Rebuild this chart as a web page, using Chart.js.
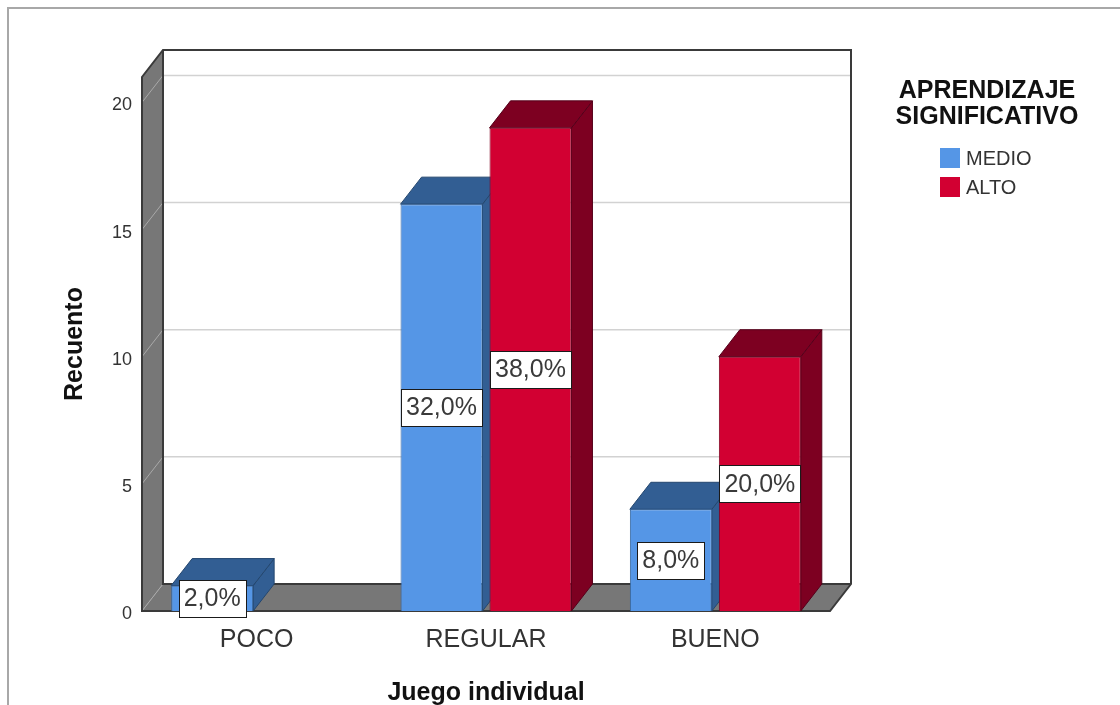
<!DOCTYPE html>
<html>
<head>
<meta charset="utf-8">
<script src="https://cdn.jsdelivr.net/npm/chart.js@4.4.1/dist/chart.umd.min.js"></script>
<style>
html,body{margin:0;padding:0;background:#fff;}
#wrap{width:1120px;height:705px;position:relative;overflow:hidden;}
</style>
</head>
<body>
<div id="wrap"><canvas id="c" width="1120" height="705"></canvas></div>
<script>
// ---- data ----
const categories = ['POCO', 'REGULAR', 'BUENO'];
const seriesNames = ['MEDIO', 'ALTO'];
const medio = [1, 16, 4];
const alto = [0, 19, 10];
const yTicks = [0, 5, 10, 15, 20];
const yMax = 21;
const legendTitle = ['APRENDIZAJE', 'SIGNIFICATIVO'];
const xTitle = 'Juego individual';
const yTitle = 'Recuento';

const FONT = '"Liberation Sans", Arial, sans-serif';
Chart.defaults.font.family = FONT;
const DX = 21, DY = 27;
const total = medio.reduce((a, b) => a + b, 0) + alto.reduce((a, b) => a + b, 0);

const plugin3d = {
  id: 'threeD',
  beforeDraw(chart) {
    const ctx = chart.ctx;
    ctx.save();
    ctx.strokeStyle = '#a8a8a8';
    ctx.lineWidth = 2;
    ctx.beginPath();
    ctx.moveTo(8, 705); ctx.lineTo(8, 8); ctx.lineTo(1120, 8);
    ctx.stroke();
    ctx.restore();
  },
  beforeDatasetsDraw(chart) {
    const { ctx, chartArea: a, scales: { y } } = chart;
    const L = a.left, R = a.right, T = a.top, B = a.bottom;
    ctx.save();
    // back wall
    ctx.fillStyle = '#fff';
    ctx.fillRect(L + DX, T - DY, R - L, B - T);
    ctx.strokeStyle = '#d2d2d2';
    ctx.lineWidth = 1.5;
    yTicks.forEach(v => {
      if (v === 0) return;
      const py = y.getPixelForValue(v);
      ctx.beginPath(); ctx.moveTo(L + DX, py - DY); ctx.lineTo(R + DX, py - DY); ctx.stroke();
    });
    // side wall + floor
    ctx.fillStyle = '#777777';
    ctx.beginPath();
    ctx.moveTo(L, T); ctx.lineTo(L + DX, T - DY); ctx.lineTo(L + DX, B - DY); ctx.lineTo(L, B); ctx.closePath(); ctx.fill();
    ctx.beginPath();
    ctx.moveTo(L, B); ctx.lineTo(L + DX, B - DY); ctx.lineTo(R + DX, B - DY); ctx.lineTo(R, B); ctx.closePath(); ctx.fill();
    // diagonal tick lines on side wall
    ctx.strokeStyle = '#a9a9a9';
    ctx.lineWidth = 1;
    yTicks.forEach(v => {
      const py = y.getPixelForValue(v);
      ctx.beginPath(); ctx.moveTo(L, py); ctx.lineTo(L + DX, py - DY); ctx.stroke();
    });
    // outlines
    ctx.strokeStyle = '#3a3a3a';
    ctx.lineWidth = 2;
    ctx.beginPath();
    ctx.moveTo(L, B); ctx.lineTo(L, T); ctx.lineTo(L + DX, T - DY); ctx.lineTo(R + DX, T - DY);
    ctx.lineTo(R + DX, B - DY); ctx.lineTo(R, B); ctx.closePath(); ctx.stroke();
    ctx.beginPath();
    ctx.moveTo(L + DX, T - DY); ctx.lineTo(L + DX, B - DY); ctx.lineTo(R + DX, B - DY); ctx.stroke();
    // bar side and top faces
    chart.data.datasets.forEach((ds, i) => {
      chart.getDatasetMeta(i).data.forEach((bar, j) => {
        if (!ds.data[j]) return;
        const p = bar.getProps(['x', 'y', 'base', 'width'], true);
        const l = p.x - p.width / 2, r = p.x + p.width / 2, ty = p.y, base = p.base;
        ctx.lineWidth = 1;
        ctx.strokeStyle = ds.edgeColor;
        ctx.fillStyle = ds.sideColor;
        ctx.beginPath();
        ctx.moveTo(r, ty); ctx.lineTo(r + DX, ty - DY); ctx.lineTo(r + DX, base - DY); ctx.lineTo(r, base); ctx.closePath();
        ctx.fill(); ctx.stroke();
        ctx.fillStyle = ds.topColor;
        ctx.beginPath();
        ctx.moveTo(l, ty); ctx.lineTo(l + DX, ty - DY); ctx.lineTo(r + DX, ty - DY); ctx.lineTo(r, ty); ctx.closePath();
        ctx.fill(); ctx.stroke();
      });
    });
    ctx.restore();
  },
  afterDatasetsDraw(chart) {
    const ctx = chart.ctx;
    ctx.save();
    ctx.font = '25px ' + FONT;
    ctx.textAlign = 'center';
    ctx.textBaseline = 'middle';
    chart.data.datasets.forEach((ds, i) => {
      chart.getDatasetMeta(i).data.forEach((bar, j) => {
        const v = ds.data[j];
        if (!v) return;
        const txt = (v / total * 100).toFixed(1).replace('.', ',') + '%';
        const p = bar.getProps(['x', 'y', 'base'], true);
        const cy = (p.y + p.base) / 2;
        const w = Math.round(ctx.measureText(txt).width + 10), h = 37;
        const bx = Math.round(p.x - w / 2) + 0.5, by = Math.round(cy - h / 2) + 0.5;
        ctx.fillStyle = '#fff';
        ctx.fillRect(bx, by, w, h);
        ctx.strokeStyle = '#1a1a1a';
        ctx.lineWidth = 1;
        ctx.strokeRect(bx, by, w, h);
        ctx.fillStyle = '#3a3a3a';
        ctx.fillText(txt, p.x, cy + 1);
      });
    });
    ctx.restore();
  },
  afterDraw(chart) {
    const ctx = chart.ctx;
    ctx.save();
    ctx.fillStyle = '#111';
    ctx.font = 'bold 25px ' + FONT;
    ctx.textAlign = 'center';
    ctx.textBaseline = 'middle';
    ctx.fillText(legendTitle[0], 987, 91);
    ctx.fillText(legendTitle[1], 987, 117);
    ctx.font = '20px ' + FONT;
    ctx.textAlign = 'left';
    chart.data.datasets.forEach((ds, i) => {
      const yy = 148 + i * 29;
      ctx.fillStyle = ds.backgroundColor;
      ctx.fillRect(940, yy, 20, 20);
      ctx.fillStyle = '#333';
      ctx.fillText(ds.label, 966, yy + 11);
    });
    ctx.restore();
  }
};

new Chart(document.getElementById('c'), {
  type: 'bar',
  data: {
    labels: categories,
    datasets: [
      { label: seriesNames[0], data: medio, backgroundColor: '#5596e6', borderColor: '#35659e', borderWidth: 1,
        sideColor: '#325e93', topColor: '#325e93', edgeColor: '#24476f' },
      { label: seriesNames[1], data: alto, backgroundColor: '#d20032', borderColor: '#7d0020', borderWidth: 1,
        sideColor: '#7d0021', topColor: '#7d0021', edgeColor: '#55001a' }
    ]
  },
  options: {
    responsive: false,
    animation: false,
    devicePixelRatio: 1,
    layout: { padding: { left: 0, top: 77, right: 290, bottom: 0 } },
    datasets: { bar: { categoryPercentage: 0.776, barPercentage: 0.921 } },
    plugins: { legend: { display: false }, tooltip: { enabled: false } },
    scales: {
      x: {
        grid: { display: false, drawTicks: false },
        border: { display: false },
        ticks: { padding: 14, color: '#333', font: { size: 25 } },
        title: { display: true, text: xTitle, color: '#111', font: { size: 25, weight: 'bold' }, padding: { top: 0, bottom: -3 } },
        afterFit(s) { s.height = 94; }
      },
      y: {
        min: 0, max: yMax,
        grid: { display: false, drawTicks: false },
        border: { display: false },
        ticks: { stepSize: 5, padding: 10, labelOffset: 3, color: '#333', font: { size: 18 } },
        title: { display: true, text: yTitle, color: '#111', font: { size: 25, weight: 'bold' }, padding: { top: 60, bottom: 0 } },
        afterBuildTicks(s) { s.ticks = yTicks.map(v => ({ value: v })); },
        afterFit(s) { s.width = 142; }
      }
    }
  },
  plugins: [plugin3d]
});
</script>
</body>
</html>
